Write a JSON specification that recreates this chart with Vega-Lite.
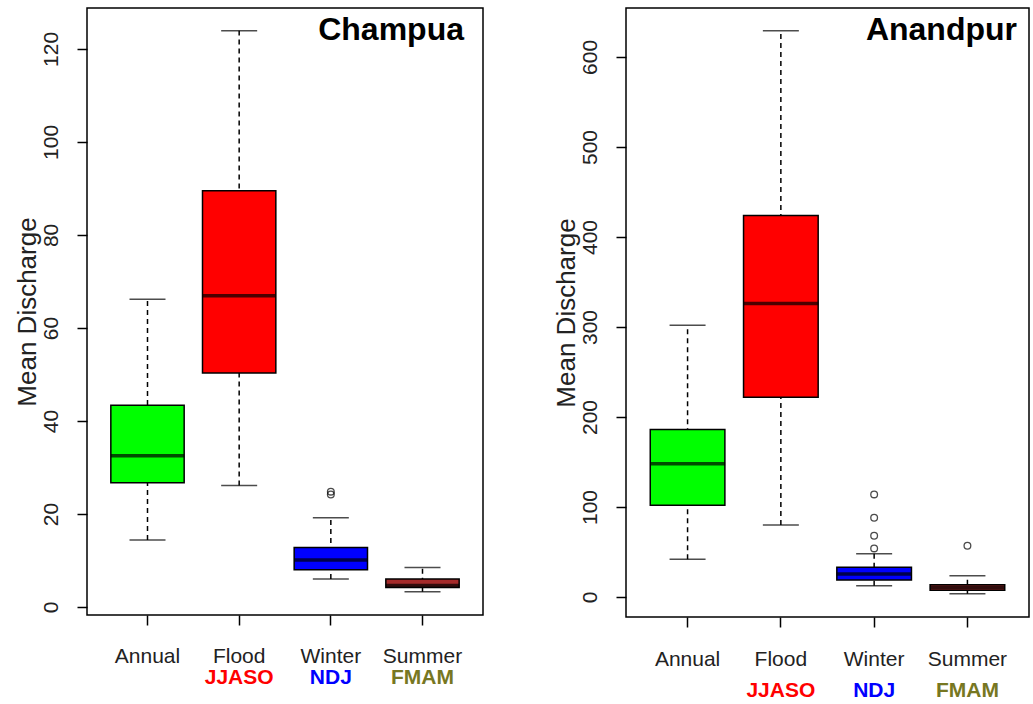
{
  "$schema": "https://vega.github.io/schema/vega-lite/v6.json",
  "background": "white",
  "padding": {"left": 13, "top": 7, "right": 0, "bottom": 0},
  "config": {
    "view": {"stroke": "black", "strokeWidth": 1.5},
    "font": "Liberation Sans",
    "axis": {"labelFont": "Liberation Sans", "titleFont": "Liberation Sans", "grid": false}
  },
  "datasets": {
    "champua": [
      {"season": "Annual", "lo": 14.4, "q1": 26.7, "med": 32.5, "q3": 43.4, "hi": 66.2},
      {"season": "Flood", "lo": 26.1, "q1": 50.3, "med": 66.9, "q3": 89.5, "hi": 123.9},
      {"season": "Winter", "lo": 6.0, "q1": 8.0, "med": 10.1, "q3": 12.8, "hi": 19.2},
      {"season": "Summer", "lo": 3.3, "q1": 4.2, "med": 4.6, "q3": 6.0, "hi": 8.5}
    ],
    "champua_out": [
      {"season": "Winter", "value": 24.2},
      {"season": "Winter", "value": 24.8}
    ],
    "anandpur": [
      {"season": "Annual", "lo": 42, "q1": 102, "med": 148, "q3": 186, "hi": 302},
      {"season": "Flood", "lo": 80, "q1": 222, "med": 326, "q3": 424, "hi": 629},
      {"season": "Winter", "lo": 12.6, "q1": 19, "med": 25.6, "q3": 33, "hi": 48},
      {"season": "Summer", "lo": 3.7, "q1": 7.5, "med": 10.5, "q3": 13.5, "hi": 23.7}
    ],
    "anandpur_out": [
      {"season": "Winter", "value": 54},
      {"season": "Winter", "value": 68},
      {"season": "Winter", "value": 88},
      {"season": "Winter", "value": 114},
      {"season": "Summer", "value": 57}
    ]
  },
  "bounds": "flush",
  "spacing": 143,
  "hconcat": [
    {
      "width": 396,
      "height": 607,
      "title": {"text": "Champua", "anchor": "end", "orient": "top", "frame": "group", "offset": -39, "dx": -19, "fontSize": 32, "fontWeight": "bold", "font": "Liberation Sans", "color": "black"},
      "resolve": {"axis": {"x": "independent", "y": "independent"}},
      "layer": [
        {
          "data": {"name": "champua"},
          "mark": {"type": "rule", "strokeDash": [5, 4], "strokeWidth": 1.5, "color": "black"},
          "encoding": {
            "x": {"field": "season", "type": "nominal", "sort": ["Annual", "Flood", "Winter", "Summer"],
                  "scale": {"paddingInner": 0.2, "paddingOuter": 0.26},
                  "axis": {"orient": "bottom", "title": null, "labelAngle": 0, "domain": false, "tickSize": 10, "tickWidth": 1.5, "tickColor": "black", "labelFontSize": 21, "labelColor": "#222", "labelPadding": 20}},
            "y": {"field": "lo", "type": "quantitative", "scale": {"domain": [-1.72, 128.8], "nice": false, "zero": false},
                  "axis": {"orient": "left", "values": [0, 20, 40, 60, 80, 100, 120], "title": "Mean Discharge", "titleFontSize": 26, "titleFontWeight": "normal", "titleColor": "#222", "titlePadding": 0, "labelAngle": 270, "labelAlign": "center", "labelBaseline": "alphabetic", "labelPadding": 20, "labelFontSize": 21, "labelColor": "#222", "tickSize": 10, "tickWidth": 1.5, "tickColor": "black", "domain": false}},
            "y2": {"field": "hi"}
          }
        },
        {
          "data": {"name": "champua"},
          "mark": {"type": "tick", "size": 36, "thickness": 1.5, "color": "black"},
          "encoding": {
            "x": {"field": "season", "type": "nominal", "sort": ["Annual", "Flood", "Winter", "Summer"], "axis": null},
            "y": {"field": "hi", "type": "quantitative", "axis": null}
          }
        },
        {
          "data": {"name": "champua"},
          "mark": {"type": "tick", "size": 36, "thickness": 1.5, "color": "black"},
          "encoding": {
            "x": {"field": "season", "type": "nominal", "sort": ["Annual", "Flood", "Winter", "Summer"], "axis": null},
            "y": {"field": "lo", "type": "quantitative", "axis": null}
          }
        },
        {
          "data": {"name": "champua"},
          "mark": {"type": "bar", "stroke": "black", "strokeWidth": 1.5},
          "encoding": {
            "x": {"field": "season", "type": "nominal", "sort": ["Annual", "Flood", "Winter", "Summer"],
                  "axis": {"orient": "bottom", "title": null, "labelAngle": 0, "domain": false, "ticks": false, "tickSize": 0, "labelPadding": 51, "labelFontSize": 21, "labelFontWeight": "bold",
                           "labelExpr": "datum.value === 'Flood' ? 'JJASO' : datum.value === 'Winter' ? 'NDJ' : datum.value === 'Summer' ? 'FMAM' : ''",
                           "labelColor": {"condition": [{"test": "datum.value === 'Flood'", "value": "#ff0000"}, {"test": "datum.value === 'Winter'", "value": "#0000ff"}], "value": "#777722"}}},
            "y": {"field": "q1", "type": "quantitative", "axis": null},
            "y2": {"field": "q3"},
            "fill": {"field": "season", "type": "nominal", "legend": null,
                     "scale": {"domain": ["Annual", "Flood", "Winter", "Summer"], "range": ["#00ff00", "#ff0000", "#0000ff", "#a52a2a"]}}
          }
        },
        {
          "data": {"name": "champua"},
          "mark": {"type": "tick", "size": 73, "thickness": 3.5, "color": "black"},
          "encoding": {
            "x": {"field": "season", "type": "nominal", "sort": ["Annual", "Flood", "Winter", "Summer"], "axis": null},
            "y": {"field": "med", "type": "quantitative", "axis": null}
          }
        },
        {
          "data": {"name": "champua_out"},
          "mark": {"type": "point", "shape": "circle", "filled": false, "size": 45, "strokeWidth": 1.3, "color": "black"},
          "encoding": {
            "x": {"field": "season", "type": "nominal", "sort": ["Annual", "Flood", "Winter", "Summer"], "axis": null},
            "y": {"field": "value", "type": "quantitative", "axis": null}
          }
        }
      ]
    },
    {
      "width": 403,
      "height": 609,
      "title": {"text": "Anandpur", "anchor": "end", "orient": "top", "frame": "group", "offset": -39, "dx": -12, "fontSize": 32, "fontWeight": "bold", "font": "Liberation Sans", "color": "black"},
      "resolve": {"axis": {"x": "independent", "y": "independent"}},
      "layer": [
        {
          "data": {"name": "anandpur"},
          "mark": {"type": "rule", "strokeDash": [5, 4], "strokeWidth": 1.5, "color": "black"},
          "encoding": {
            "x": {"field": "season", "type": "nominal", "sort": ["Annual", "Flood", "Winter", "Summer"],
                  "scale": {"paddingInner": 0.2, "paddingOuter": 0.26},
                  "axis": {"orient": "bottom", "title": null, "labelAngle": 0, "domain": false, "tickSize": 10, "tickWidth": 1.5, "tickColor": "black", "labelFontSize": 21, "labelColor": "#222", "labelPadding": 21}},
            "y": {"field": "lo", "type": "quantitative", "scale": {"domain": [-22.2, 654.4], "nice": false, "zero": false},
                  "axis": {"orient": "left", "values": [0, 100, 200, 300, 400, 500, 600], "title": "Mean Discharge", "titleFontSize": 26, "titleFontWeight": "normal", "titleColor": "#222", "titlePadding": 0, "labelAngle": 270, "labelAlign": "center", "labelBaseline": "alphabetic", "labelPadding": 20, "labelFontSize": 21, "labelColor": "#222", "tickSize": 10, "tickWidth": 1.5, "tickColor": "black", "domain": false}},
            "y2": {"field": "hi"}
          }
        },
        {
          "data": {"name": "anandpur"},
          "mark": {"type": "tick", "size": 36, "thickness": 1.5, "color": "black"},
          "encoding": {
            "x": {"field": "season", "type": "nominal", "sort": ["Annual", "Flood", "Winter", "Summer"], "axis": null},
            "y": {"field": "hi", "type": "quantitative", "axis": null}
          }
        },
        {
          "data": {"name": "anandpur"},
          "mark": {"type": "tick", "size": 36, "thickness": 1.5, "color": "black"},
          "encoding": {
            "x": {"field": "season", "type": "nominal", "sort": ["Annual", "Flood", "Winter", "Summer"], "axis": null},
            "y": {"field": "lo", "type": "quantitative", "axis": null}
          }
        },
        {
          "data": {"name": "anandpur"},
          "mark": {"type": "bar", "stroke": "black", "strokeWidth": 1.5},
          "encoding": {
            "x": {"field": "season", "type": "nominal", "sort": ["Annual", "Flood", "Winter", "Summer"],
                  "axis": {"orient": "bottom", "title": null, "labelAngle": 0, "domain": false, "ticks": false, "tickSize": 0, "labelPadding": 62, "labelFontSize": 21, "labelFontWeight": "bold",
                           "labelExpr": "datum.value === 'Flood' ? 'JJASO' : datum.value === 'Winter' ? 'NDJ' : datum.value === 'Summer' ? 'FMAM' : ''",
                           "labelColor": {"condition": [{"test": "datum.value === 'Flood'", "value": "#ff0000"}, {"test": "datum.value === 'Winter'", "value": "#0000ff"}], "value": "#777722"}}},
            "y": {"field": "q1", "type": "quantitative", "axis": null},
            "y2": {"field": "q3"},
            "fill": {"field": "season", "type": "nominal", "legend": null,
                     "scale": {"domain": ["Annual", "Flood", "Winter", "Summer"], "range": ["#00ff00", "#ff0000", "#0000ff", "#a52a2a"]}}
          }
        },
        {
          "data": {"name": "anandpur"},
          "mark": {"type": "tick", "size": 75, "thickness": 3.5, "color": "black"},
          "encoding": {
            "x": {"field": "season", "type": "nominal", "sort": ["Annual", "Flood", "Winter", "Summer"], "axis": null},
            "y": {"field": "med", "type": "quantitative", "axis": null}
          }
        },
        {
          "data": {"name": "anandpur_out"},
          "mark": {"type": "point", "shape": "circle", "filled": false, "size": 45, "strokeWidth": 1.3, "color": "black"},
          "encoding": {
            "x": {"field": "season", "type": "nominal", "sort": ["Annual", "Flood", "Winter", "Summer"], "axis": null},
            "y": {"field": "value", "type": "quantitative", "axis": null}
          }
        }
      ]
    }
  ]
}
